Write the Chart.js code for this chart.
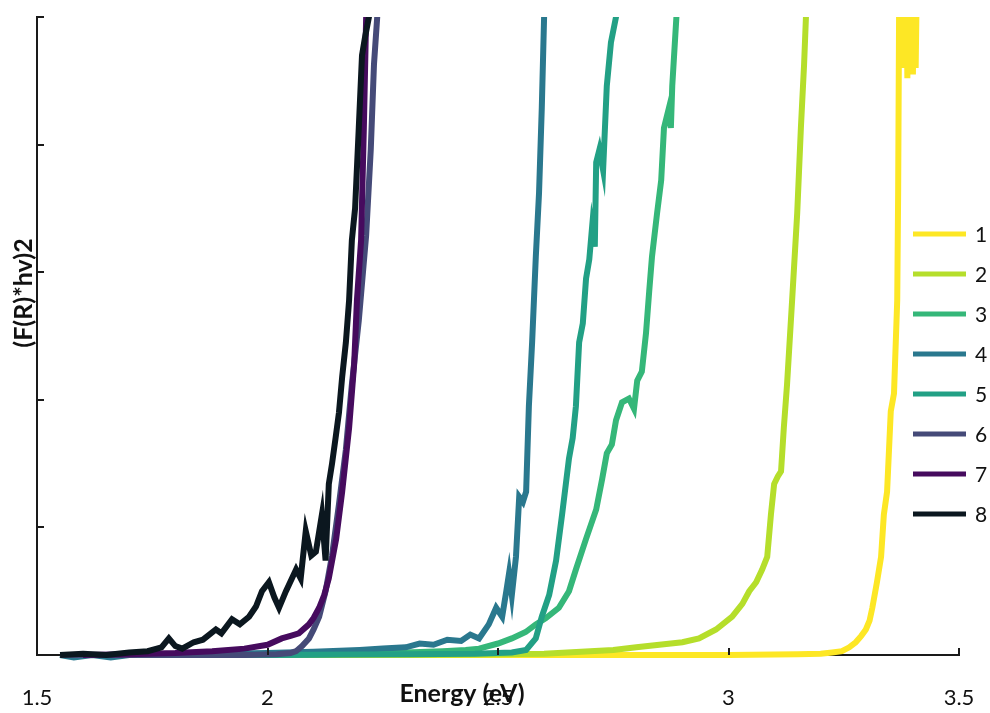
<!DOCTYPE html>
<html><head><meta charset="utf-8">
<script src="https://cdn.jsdelivr.net/npm/chart.js@4/dist/chart.umd.min.js"></script>
<style>html,body{margin:0;padding:0;background:#fff;} canvas{display:block;}</style>
</head><body>
<canvas id="c" width="990" height="713"></canvas>
<script>
// ---- data ----
const seriesNames = ['1','2','3','4','5','6','7','8'];
const seriesColors = ['#fde725','#b5de2b','#35b779','#2a788e','#22a085','#454a78','#460b5e','#0b171f'];
const xTickLabels = ['1.5','2','2.5','3','3.5'];
const xTitle = 'Energy (eV)';
const yTitle = '(F(R)*hv)2';

const e1 = [1.55, 2.5, 3.0, 3.15, 3.2, 3.225, 3.246, 3.262, 3.276, 3.288, 3.298, 3.306, 3.312, 3.322, 3.331, 3.337, 3.344, 3.352, 3.359, 3.366, 3.368, 3.37, 3.373, 3.376, 3.379, 3.382, 3.385, 3.388, 3.391, 3.394, 3.397, 3.4, 3.403, 3.406, 3.409];
const v1 = [0.0, 0.0, 0.0, 0.005, 0.01, 0.02, 0.03, 0.06, 0.1, 0.15, 0.2, 0.27, 0.37, 0.57, 0.77, 1.1, 1.28, 1.91, 2.05, 2.78, 3.62, 5.0, 5.6, 4.7, 5.5, 4.6, 5.6, 4.52, 5.5, 4.6, 5.5, 4.55, 5.5, 4.6, 5.4];

const e2 = [1.55, 2.3, 2.5, 2.6, 2.65, 2.7, 2.75, 2.8, 2.85, 2.9, 2.936, 2.973, 3.008, 3.03, 3.045, 3.06, 3.073, 3.084, 3.092, 3.099, 3.107, 3.114, 3.12, 3.127, 3.138, 3.149, 3.157, 3.164, 3.168, 3.172];
const v2 = [0.0, 0.0, 0.005, 0.01, 0.02, 0.03, 0.04, 0.06, 0.08, 0.1, 0.13, 0.2, 0.3, 0.4, 0.5, 0.57, 0.67, 0.77, 1.1, 1.34, 1.4, 1.44, 1.78, 2.12, 2.78, 3.46, 4.13, 4.63, 5.0, 5.3];

const e3 = [1.55, 2.0, 2.2, 2.3, 2.38, 2.43, 2.459, 2.5, 2.53, 2.56, 2.582, 2.604, 2.632, 2.654, 2.669, 2.691, 2.713, 2.726, 2.736, 2.747, 2.756, 2.769, 2.784, 2.795, 2.802, 2.812, 2.821, 2.828, 2.834, 2.845, 2.854, 2.86, 2.871, 2.875, 2.878, 2.887, 2.892];
const v3 = [0.0, 0.0, 0.01, 0.02, 0.03, 0.04, 0.05, 0.09, 0.13, 0.18, 0.24, 0.29, 0.37, 0.5, 0.67, 0.91, 1.14, 1.38, 1.58, 1.65, 1.84, 1.98, 2.01, 1.93, 2.15, 2.22, 2.52, 2.85, 3.12, 3.46, 3.72, 4.13, 4.29, 4.13, 4.46, 5.0, 5.3];

const e4 = [1.55, 1.58, 1.62, 1.66, 1.7, 1.8, 1.9, 2.0, 2.1, 2.2, 2.25, 2.3, 2.33, 2.36, 2.39, 2.42, 2.44, 2.459, 2.48, 2.496, 2.509, 2.518, 2.524, 2.53, 2.539, 2.546, 2.554, 2.561, 2.567, 2.574, 2.582, 2.589, 2.595, 2.6, 2.605];
const v4 = [0.0, -0.02, 0.0, -0.02, 0.0, 0.005, 0.01, 0.015, 0.025, 0.04, 0.05, 0.06, 0.09, 0.08, 0.12, 0.11, 0.16, 0.13, 0.24, 0.37, 0.3, 0.5, 0.64, 0.47, 0.77, 1.24, 1.2, 1.28, 1.95, 2.45, 3.12, 3.62, 4.29, 5.0, 5.4];

const e5 = [1.55, 2.0, 2.3, 2.45, 2.53, 2.561, 2.582, 2.595, 2.611, 2.626, 2.639, 2.654, 2.662, 2.669, 2.676, 2.684, 2.691, 2.698, 2.704, 2.71, 2.713, 2.72, 2.728, 2.736, 2.745, 2.756, 2.76];
const v5 = [0.0, 0.0, 0.005, 0.01, 0.02, 0.04, 0.13, 0.3, 0.47, 0.74, 1.1, 1.54, 1.7, 1.95, 2.45, 2.6, 2.95, 3.1, 3.35, 3.2, 3.86, 3.96, 3.8, 4.46, 4.8, 5.0, 5.3];

const e6 = [1.55, 1.8, 1.95, 2.02, 2.05, 2.062, 2.075, 2.09, 2.1, 2.112, 2.126, 2.14, 2.155, 2.17, 2.183, 2.198, 2.214, 2.224, 2.231, 2.238, 2.242];
const v6 = [0.0, 0.0, 0.0, 0.005, 0.015, 0.03, 0.07, 0.13, 0.2, 0.3, 0.5, 0.78, 1.18, 1.61, 2.12, 2.62, 3.29, 3.96, 4.63, 5.0, 5.4];

const e7 = [1.6, 1.7, 1.8, 1.88, 1.95, 2.0, 2.031, 2.05, 2.068, 2.09, 2.1, 2.112, 2.123, 2.133, 2.149, 2.162, 2.177, 2.188, 2.194, 2.203, 2.209, 2.214, 2.22];
const v7 = [0.0, 0.005, 0.015, 0.03, 0.05, 0.08, 0.13, 0.15, 0.17, 0.24, 0.29, 0.37, 0.47, 0.6, 0.91, 1.28, 1.78, 2.28, 2.78, 3.25, 4.13, 5.0, 5.5];

const e8 = [1.55, 1.6, 1.65, 1.7, 1.74, 1.77, 1.786, 1.8, 1.815, 1.84, 1.86, 1.888, 1.9, 1.923, 1.94, 1.96, 1.975, 1.988, 2.003, 2.015, 2.025, 2.04, 2.062, 2.072, 2.083, 2.095, 2.105, 2.118, 2.126, 2.133, 2.14, 2.148, 2.155, 2.162, 2.17, 2.177, 2.183, 2.19, 2.198, 2.205, 2.212, 2.22, 2.225];
const v8 = [0.0, 0.01, 0.0, 0.02, 0.03, 0.06, 0.13, 0.07, 0.05, 0.1, 0.12, 0.2, 0.17, 0.28, 0.24, 0.3, 0.38, 0.5, 0.57, 0.45, 0.37, 0.5, 0.67, 0.6, 0.97, 0.78, 0.81, 1.1, 0.74, 1.34, 1.5, 1.71, 1.9, 2.18, 2.45, 2.78, 3.25, 3.5, 4.13, 4.7, 4.85, 5.0, 5.3];

const energies = [e1, e2, e3, e4, e5, e6, e7, e8];
const values = [v1, v2, v3, v4, v5, v6, v7, v8];

// ---- chart ----
const AXIS_COLOR = '#1a1a1a';
Chart.defaults.font.family = 'Lato, "Liberation Sans", sans-serif';

const datasets = seriesNames.map((name, i) => ({
  label: name,
  data: energies[i].map((x, k) => ({x: x, y: values[i][k]})),
  borderColor: seriesColors[i],
  backgroundColor: seriesColors[i],
  borderWidth: 6,
  pointRadius: 0,
  pointHoverRadius: 0,
  tension: 0,
  fill: false,
  order: seriesNames.length - i,
  clip: {left: 10, top: 0, right: 10, bottom: 10}
}));

const decorPlugin = {
  id: 'decor',
  afterDraw(chart) {
    const ctx = chart.ctx;
    const xs = chart.scales.x, ys = chart.scales.y;
    const a = chart.chartArea;
    ctx.save();
    // inward tick marks
    ctx.strokeStyle = AXIS_COLOR;
    ctx.lineWidth = 2;
    xs.ticks.forEach(t => {
      const px = Math.round(xs.getPixelForValue(t.value));
      ctx.beginPath(); ctx.moveTo(px, a.bottom); ctx.lineTo(px, a.bottom - 7); ctx.stroke();
    });
    ys.ticks.forEach(t => {
      const py = Math.round(ys.getPixelForValue(t.value));
      ctx.beginPath(); ctx.moveTo(a.left, py); ctx.lineTo(a.left + 7, py); ctx.stroke();
    });
    // x tick labels
    ctx.fillStyle = '#111';
    ctx.font = '22px Lato';
    ctx.textAlign = 'center';
    ctx.textBaseline = 'middle';
    xs.ticks.forEach((t, i) => {
      ctx.fillText(xTickLabels[i], xs.getPixelForValue(t.value), a.bottom + 43);
    });
    // legend
    ctx.textAlign = 'left';
    ctx.font = '21px Lato';
    chart.data.datasets.forEach((ds, i) => {
      const y = 234 + i * 40;
      ctx.fillStyle = ds.borderColor;
      ctx.fillRect(913, y - 2.5, 53, 5);
      ctx.fillStyle = '#111';
      ctx.fillText(ds.label, 975, y + 1);
    });
    // axis titles
    ctx.fillStyle = '#111';
    ctx.font = 'bold 25px Lato';
    ctx.textAlign = 'center';
    ctx.textBaseline = 'middle';
    ctx.fillText(xTitle, 462, 694);
    ctx.translate(24, 293);
    ctx.rotate(-Math.PI / 2);
    ctx.fillText(yTitle, 0, 0);
    ctx.restore();
  }
};

new Chart(document.getElementById('c'), {
  type: 'line',
  data: {datasets},
  options: {
    responsive: false,
    animation: false,
    devicePixelRatio: 1,
    layout: {padding: {left: 37, right: 31, top: 17, bottom: 58}},
    plugins: {legend: {display: false}, tooltip: {enabled: false}},
    scales: {
      x: {
        type: 'linear', min: 1.5, max: 3.5,
        ticks: {display: false, stepSize: 0.5},
        grid: {display: false, drawTicks: false},
        border: {display: true, color: AXIS_COLOR, width: 2}
      },
      y: {
        type: 'linear', min: 0, max: 5,
        ticks: {display: false, stepSize: 1},
        grid: {display: false, drawTicks: false},
        border: {display: true, color: AXIS_COLOR, width: 2}
      }
    }
  },
  plugins: [decorPlugin]
});
</script>
</body></html>
